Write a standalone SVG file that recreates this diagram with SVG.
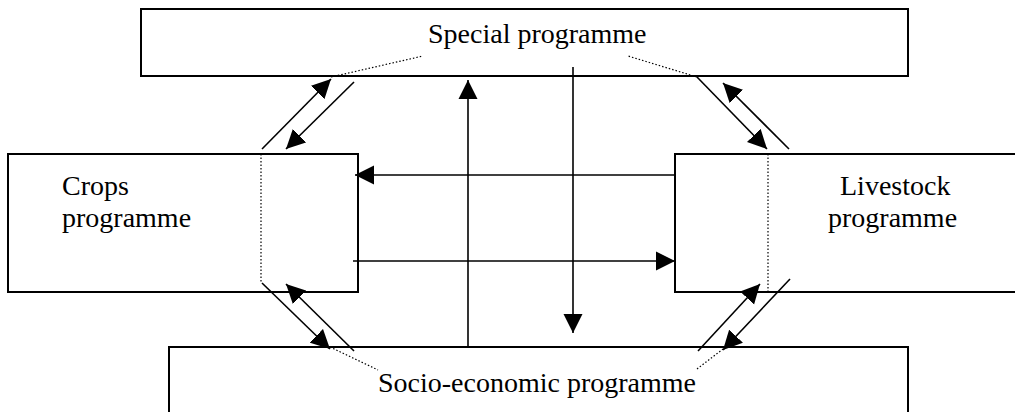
<svg xmlns="http://www.w3.org/2000/svg" width="1015" height="412" viewBox="0 0 1015 412">
  <style>
    .box { fill: #fff; stroke: #000; stroke-width: 2; }
    .arrow { stroke: #000; stroke-width: 1.6; fill: none; marker-end: url(#head); }
    .dot { stroke: #000; stroke-width: 1.2; stroke-dasharray: 1.5 2; fill: none; }
    .label { font-family: "Liberation Serif", "Times New Roman", serif; font-size: 28px; fill: #000; }
  </style>
  <defs>
    <marker id="head" markerUnits="userSpaceOnUse" markerWidth="20" markerHeight="20" refX="19" refY="10" orient="auto">
      <path d="M0,0.5 L19,10 L0,19.5 Z" fill="#000"/>
    </marker>
  </defs>
  <rect width="1015" height="412" fill="#fff"/>

  <g id="special">
    <rect class="box" x="141" y="9" width="767" height="67"/>
    <text class="label" x="428" y="43">Special programme</text>
  </g>

  <g id="crops">
    <rect class="box" x="8" y="154" width="350" height="138"/>
    <text class="label" x="62" y="195">Crops</text>
    <text class="label" x="62" y="227">programme</text>
  </g>

  <g id="livestock">
    <rect class="box" x="675" y="154" width="360" height="138"/>
    <text class="label" x="840" y="195">Livestock</text>
    <text class="label" x="828" y="227">programme</text>
  </g>

  <g id="socio-economic">
    <rect class="box" x="169" y="347" width="739" height="80"/>
  </g>

  <g id="connectors">
    <!-- crops / livestock exchange -->
    <line class="arrow" x1="675" y1="175" x2="355" y2="175"/>
    <line class="arrow" x1="353" y1="261" x2="675" y2="261"/>
    <!-- special / socio-economic exchange -->
    <line class="arrow" x1="468" y1="347" x2="468" y2="80"/>
    <line class="arrow" x1="573" y1="67" x2="573" y2="333"/>
    <!-- crops / special -->
    <line class="arrow" x1="262" y1="149" x2="331" y2="79"/>
    <line class="arrow" x1="354" y1="82" x2="286" y2="149"/>
    <!-- livestock / special -->
    <line class="arrow" x1="697" y1="77" x2="767" y2="149"/>
    <line class="arrow" x1="789" y1="149" x2="723" y2="83"/>
    <!-- crops / socio-economic -->
    <line class="arrow" x1="262" y1="283" x2="330" y2="349"/>
    <line class="arrow" x1="354" y1="351" x2="286" y2="284"/>
    <!-- livestock / socio-economic -->
    <line class="arrow" x1="698" y1="351" x2="760" y2="284"/>
    <line class="arrow" x1="790" y1="279" x2="723" y2="350"/>
    <!-- dotted leaders -->
    <line class="dot" x1="331" y1="77" x2="423" y2="56"/>
    <line class="dot" x1="697" y1="77" x2="628" y2="56"/>
    <line class="dot" x1="330" y1="347" x2="378" y2="370"/>
    <line class="dot" x1="697" y1="369" x2="723" y2="349"/>
    <line class="dot" x1="261" y1="154" x2="261" y2="283"/>
    <line class="dot" x1="768" y1="154" x2="768" y2="291"/>
  </g>

  <g id="socio-label">
    <text class="label" x="378" y="392">Socio-economic programme</text>
  </g>
</svg>
